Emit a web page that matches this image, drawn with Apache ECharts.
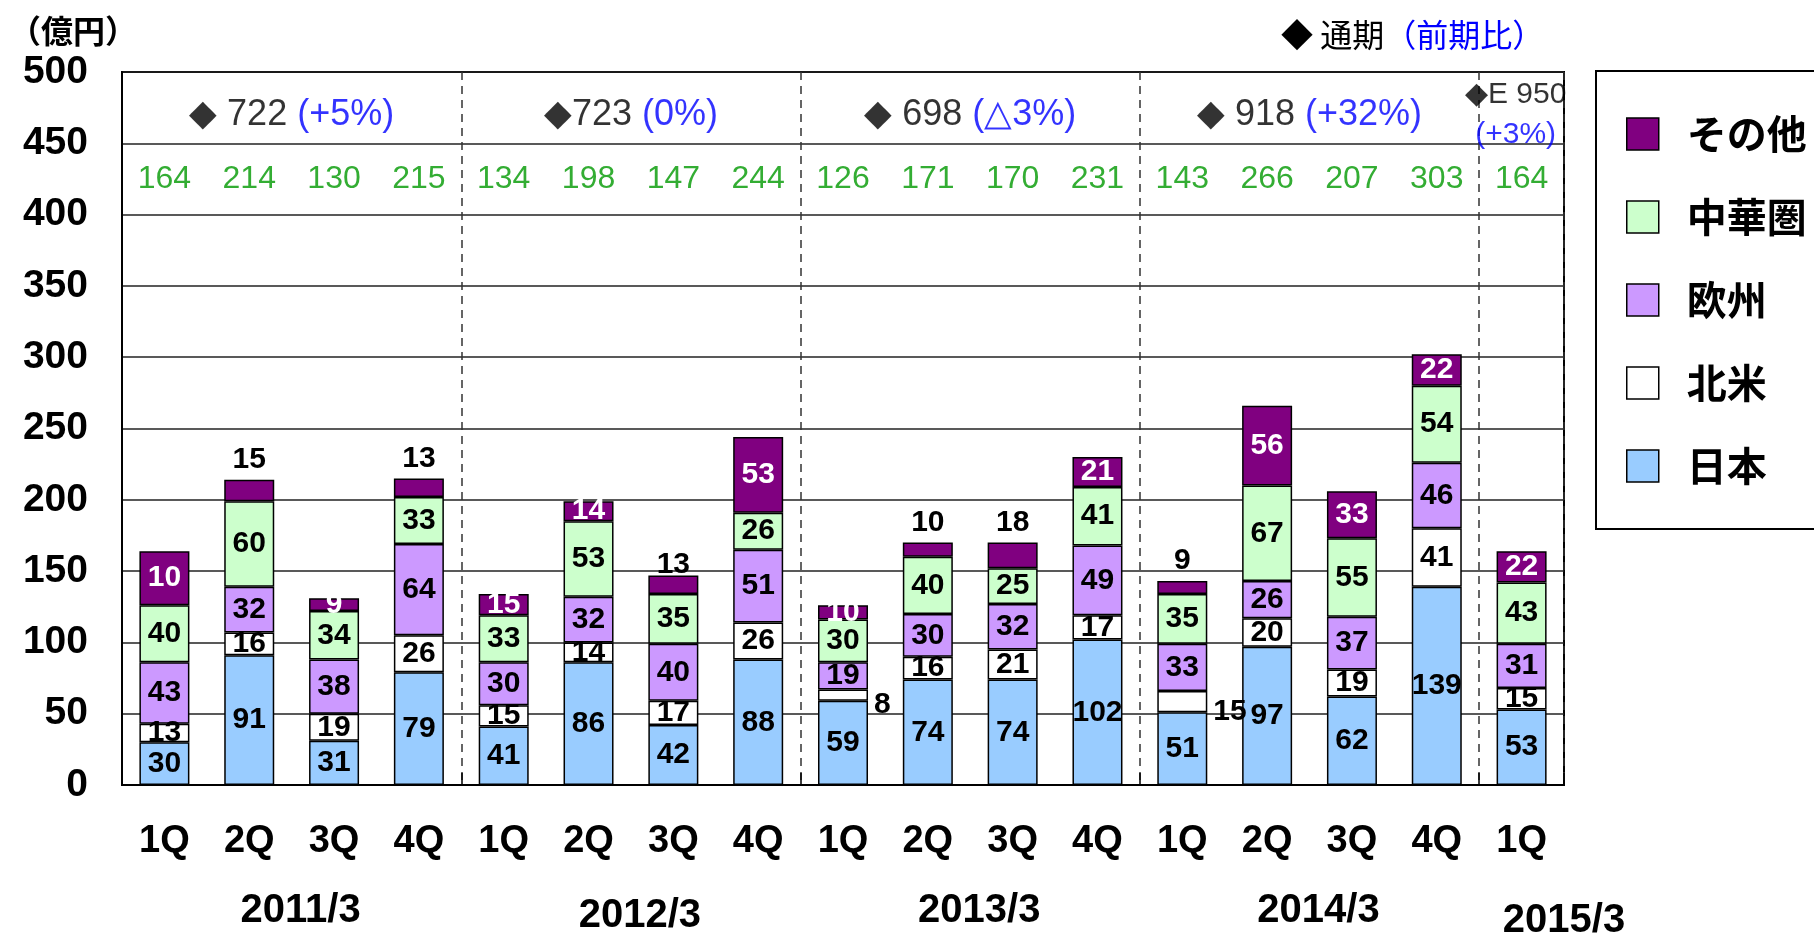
<!DOCTYPE html>
<html>
<head>
<meta charset="utf-8">
<script src="https://cdn.jsdelivr.net/npm/echarts@6/dist/echarts.min.js"></script>
<style>
  html, body { margin: 0; padding: 0; background: #fff; }
  #chart { width: 1814px; height: 934px; }
</style>
</head>
<body>
<div id="chart"></div>
<script>
// 四半期ラベル
const quarters = ['1Q','2Q','3Q','4Q','1Q','2Q','3Q','4Q','1Q','2Q','3Q','4Q','1Q','2Q','3Q','4Q','1Q'];
const fiscalYears = ['2011/3','2012/3','2013/3','2014/3','2015/3'];

// 地域別（億円）
const japan        = [30, 91, 31, 79, 41, 86, 42, 88, 59, 74, 74, 102, 51, 97, 62, 139, 53];
const northAmerica = [13, 16, 19, 26, 15, 14, 17, 26,  8, 16, 21,  17, 15, 20, 19,  41, 15];
const europe       = [43, 32, 38, 64, 30, 32, 40, 51, 19, 30, 32,  49, 33, 26, 37,  46, 31];
const greaterChina = [40, 60, 34, 33, 33, 53, 35, 26, 30, 40, 25,  41, 35, 67, 55,  54, 43];
// その他: 棒の高さ（1本目は図の上では約38、表示は10）
const others       = [38, 15,  9, 13, 15, 14, 13, 53, 10, 10, 18,  21,  9, 56, 33,  22, 22];
const othersText   = [10, 15,  9, 13, 15, 14, 13, 53, 10, 10, 18,  21,  9, 56, 33,  22, 22];
// 四半期合計
const totals = [164, 214, 130, 215, 134, 198, 147, 244, 126, 171, 170, 231, 143, 266, 207, 303, 164];
// 通期（前期比）
const fyTotal  = ['◆ 722 ', '◆723 ', '◆ 698 ', '◆ 918 '];
const fyChange = ['(+5%)', '(0%)', '(△3%)', '(+32%)'];
const forecastTotal = '◆E 950';
const forecastChange = '(+3%)';

// ラベル配置
const othersAbove = [1, 3, 6, 9, 10, 12];
const usRight = [8, 12];

const chart = echarts.init(document.getElementById('chart'));

const numFont = 'Liberation Sans';
const jpFont = 'Noto Sans CJK JP';
const groupEdge = (i) => i > 0 && i % 4 === 0;

function bar(name, values, color, data) {
  return {
    name: name,
    type: 'bar',
    stack: 'total',
    barWidth: 50,
    data: data || values,
    itemStyle: { color: color, borderColor: '#000', borderWidth: 1.5 },
    label: {
      show: true, position: 'inside', color: '#000',
      fontSize: 30, fontWeight: 'bold', fontFamily: numFont
    }
  };
}

const usData = northAmerica.map((v, i) =>
  usRight.indexOf(i) >= 0 ? { value: v, label: { position: 'right', distance: 6, offset: [0, 10] } } : v);

const otherData = others.map((v, i) => {
  if (othersAbove.indexOf(i) >= 0) {
    return { value: v, label: { position: 'top', color: '#000', distance: i === 6 ? -4 : 5 } };
  }
  return v;
});

const otherSeries = bar('その他', others, '#800080', otherData);
otherSeries.label.color = '#fff';
otherSeries.label.formatter = (p) => othersText[p.dataIndex];

const yearStyle = { fontSize: 40, fontWeight: 'bold', fontFamily: numFont, color: '#000' };

const option = {
  animation: false,
  backgroundColor: '#fff',
  title: [
    {
      text: '（億円）', left: 4, top: 10,
      textStyle: { fontSize: 32, fontWeight: 'bold', fontFamily: jpFont, color: '#000' }
    },
    {
      text: '{k|◆ 通期}{b|（前期比）}', left: 1276, top: 14,
      textStyle: {
        rich: {
          k: { fontSize: 32, fontWeight: 'normal', fontFamily: jpFont, color: '#000' },
          b: { fontSize: 32, fontWeight: 'normal', fontFamily: jpFont, color: '#0000ff' }
        }
      }
    }
  ],
  legend: {
    data: ['その他', '中華圏', '欧州', '北米', '日本'],
    orient: 'vertical',
    left: 1596, top: 71,
    icon: 'rect',
    itemWidth: 32, itemHeight: 32, itemGap: 43,
    padding: [43, 60, 43, 30],
    borderColor: '#000', borderWidth: 2,
    itemStyle: { borderColor: '#000', borderWidth: 1.5 },
    textStyle: {
      fontSize: 40, fontWeight: 'bold', fontFamily: jpFont, color: '#000',
      lineHeight: 40, padding: [0, 0, 0, 23]
    },
    selectedMode: false
  },
  grid: {
    left: 122, right: 250, top: 72, bottom: 149,
    outerBoundsMode: 'none',
    show: true, borderColor: '#000', borderWidth: 2
  },
  xAxis: [
    {
      type: 'category',
      data: quarters,
      position: 'bottom',
      axisLine: { lineStyle: { color: '#000', width: 2 } },
      axisTick: { show: true, inside: true, length: 12, interval: groupEdge, lineStyle: { color: '#000', width: 1.5 } },
      splitLine: { show: true, interval: groupEdge, lineStyle: { color: '#333', width: 1.5, type: [8, 6] } },
      axisLabel: { color: '#000', fontSize: 38, fontWeight: 'bold', fontFamily: numFont, margin: 38 }
    },
    {
      type: 'value', min: 0, max: 17, interval: 1,
      position: 'bottom',
      axisLine: { show: false }, axisTick: { show: false }, splitLine: { show: false },
      axisLabel: {
        margin: 106,
        formatter: (v) => {
          if (v === 17) return '{z|' + fiscalYears[4] + '}';
          if (v === 6) return '{w|' + fiscalYears[1] + '}';
          if (v % 4 === 2 && v < 16) return '{y|' + fiscalYears[(v - 2) / 4] + '}';
          return '';
        },
        rich: {
          y: Object.assign({ padding: [0, 0, 0, 18] }, yearStyle),
          w: Object.assign({ padding: [5, 0, 0, 18] }, yearStyle),
          z: Object.assign({ padding: [10, 0, 0, 0] }, yearStyle)
        }
      }
    }
  ],
  yAxis: {
    type: 'value', min: 0, max: 500, interval: 50,
    axisLine: { show: true, lineStyle: { color: '#000', width: 2 } },
    axisTick: { show: false },
    axisLabel: { color: '#000', fontSize: 39, fontWeight: 'bold', fontFamily: numFont, margin: 34 },
    splitLine: { lineStyle: { color: '#222', width: 1.5 } }
  },
  series: [
    bar('日本', japan, '#99ccff'),
    bar('北米', northAmerica, '#ffffff', usData),
    bar('欧州', europe, '#cc99ff'),
    bar('中華圏', greaterChina, '#ccffcc'),
    otherSeries,
    {
      name: 'totals', type: 'scatter', xAxisIndex: 0, yAxisIndex: 0,
      symbolSize: 1, itemStyle: { color: 'transparent' }, silent: true,
      data: totals.map((t, i) => [i, 425, t]),
      label: {
        show: true, position: 'inside', formatter: (p) => p.data[2],
        color: '#009900', fontSize: 32, fontFamily: numFont
      }
    },
    {
      name: 'fiscal', type: 'scatter', xAxisIndex: 1, yAxisIndex: 0,
      symbolSize: 1, itemStyle: { color: 'transparent' }, silent: true,
      data: fyTotal.map((t, i) => [4 * i + 2, 470, i]).concat([[16.43, 470, 4]]),
      label: {
        show: true, position: 'inside',
        formatter: (p) => {
          const i = p.data[2];
          if (i < 4) return '{k|' + fyTotal[i] + '}{b|' + fyChange[i] + '}';
          return '{fk|' + forecastTotal + '}\n{fb|' + forecastChange + '}';
        },
        rich: {
          k: { fontSize: 36, fontFamily: numFont, color: '#000' },
          b: { fontSize: 36, fontFamily: numFont, color: '#0000ff' },
          fk: { fontSize: 30, fontFamily: numFont, color: '#000', lineHeight: 40, align: 'center' },
          fb: { fontSize: 30, fontFamily: numFont, color: '#0000ff', lineHeight: 40, align: 'center' }
        }
      }
    }
  ]
};

chart.setOption(option);
</script>
</body>
</html>
